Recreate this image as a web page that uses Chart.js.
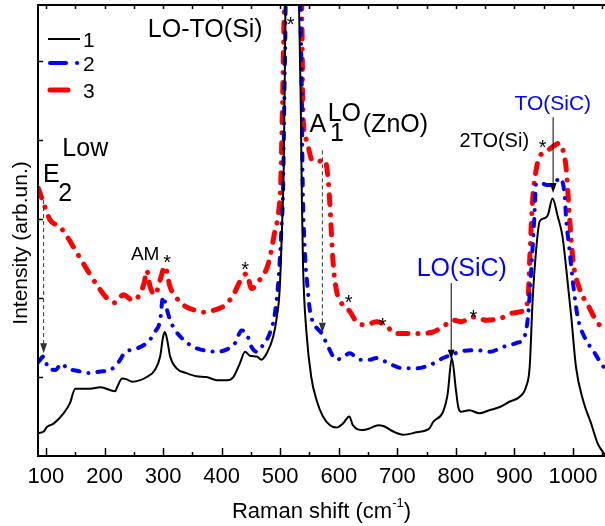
<!DOCTYPE html>
<html>
<head>
<meta charset="utf-8">
<script src="https://cdn.jsdelivr.net/npm/chart.js@4.4.0/dist/chart.umd.min.js"></script>
<style>
  html, body { margin: 0; padding: 0; background: #fff; }
  canvas { display: block; }
</style>
</head>
<body>
<canvas id="ramanChart" width="605" height="526"></canvas>
<script>
// ---- data ----
const xTickLabels = [100, 200, 300, 400, 500, 600, 700, 800, 900, 1000];
const xMinorTicks = [150, 250, 350, 450, 550, 650, 750, 850, 950, 1050];
const yTicks = [1, 2, 3, 4, 5];

// spectrum 1 (black, solid)
const s1X = [87, 96, 102, 113, 130, 141, 150, 175, 193, 218, 222, 230, 238, 247, 261, 272, 286, 295, 300, 303, 307, 312, 323, 340, 357, 374, 392, 409, 420, 431, 440, 448, 460, 468, 477, 488, 494, 499, 504, 506, 508, 509, 514, 520, 526, 532, 535, 537, 539, 545, 553, 562, 573, 585, 596, 607, 618, 624, 641, 653, 667, 676, 693, 710, 733, 755, 761, 778, 786, 793, 800, 804, 809, 823, 840, 857, 875, 892, 909, 920, 926, 931, 937, 943, 951, 957, 965, 974, 982, 988, 997, 1005, 1017, 1031, 1042, 1051, 1055];
const s1Y = [0.29, 0.31, 0.37, 0.41, 0.54, 0.67, 0.85, 0.85, 0.87, 0.82, 0.88, 0.98, 0.97, 0.94, 0.96, 1.0, 1.09, 1.26, 1.51, 1.57, 1.47, 1.26, 1.11, 1.05, 1.01, 1.0, 0.96, 0.96, 1.0, 1.17, 1.32, 1.27, 1.26, 1.22, 1.30, 1.51, 1.75, 2.1, 3.1, 3.66, 4.93, 5.77, 7.5, 9, 7.5, 5.77, 4.5, 3.24, 2.40, 1.55, 1.0, 0.71, 0.50, 0.39, 0.36, 0.41, 0.50, 0.39, 0.33, 0.35, 0.39, 0.38, 0.31, 0.27, 0.30, 0.35, 0.43, 0.56, 0.79, 1.24, 0.84, 0.62, 0.56, 0.58, 0.54, 0.58, 0.62, 0.69, 0.75, 0.88, 1.13, 1.97, 2.61, 2.97, 3.01, 3.05, 3.26, 3.03, 2.78, 2.40, 1.76, 1.13, 0.71, 0.41, 0.16, 0.05, 0.0];

// spectrum 2 (blue, dash-dot)
const s2X = [87, 96, 104, 116, 127, 136, 153, 173, 193, 210, 224, 235, 255, 275, 286, 295, 300, 306, 312, 321, 335, 352, 375, 392, 409, 423, 434, 443, 451, 460, 471, 482, 491, 497, 502, 505, 507, 509, 510, 520, 533, 535, 537, 538, 542, 546, 551, 559, 571, 582, 596, 605, 619, 636, 653, 664, 681, 710, 733, 755, 761, 778, 792, 812, 835, 858, 880, 903, 917, 923, 929, 934, 937, 946, 957, 966, 977, 986, 988, 994, 1000, 1008, 1022, 1034, 1048, 1055];
const s2Y = [1.19, 1.26, 1.11, 1.09, 1.17, 1.11, 1.08, 1.05, 1.07, 1.09, 1.19, 1.31, 1.36, 1.45, 1.57, 1.72, 2.02, 1.87, 1.72, 1.59, 1.47, 1.38, 1.33, 1.32, 1.35, 1.43, 1.59, 1.54, 1.38, 1.32, 1.41, 1.55, 1.81, 2.23, 2.86, 3.41, 4.5, 5.5, 6.5, 9, 6.5, 5.5, 4.5, 3.66, 2.61, 2.19, 1.83, 1.66, 1.55, 1.38, 1.22, 1.24, 1.30, 1.22, 1.22, 1.24, 1.19, 1.11, 1.11, 1.15, 1.17, 1.24, 1.28, 1.33, 1.34, 1.32, 1.38, 1.43, 1.51, 1.76, 2.40, 3.03, 3.45, 3.45, 3.43, 3.43, 3.52, 3.28, 3.03, 2.61, 2.19, 1.76, 1.47, 1.34, 1.17, 1.10];

// spectrum 3 (red, dash-dot)
const s3X = [87, 96, 107, 124, 136, 153, 176, 193, 204, 218, 232, 249, 261, 268, 272, 278, 286, 295, 303, 312, 321, 335, 352, 369, 389, 406, 420, 434, 443, 451, 465, 480, 491, 497, 501, 504, 507, 520, 535, 537, 539, 545, 554, 565, 576, 582, 586, 590, 596, 605, 619, 630, 647, 664, 679, 698, 716, 738, 761, 767, 786, 795, 809, 829, 852, 875, 897, 912, 923, 926, 931, 937, 943, 954, 966, 977, 983, 988, 994, 1000, 1010, 1027, 1039, 1053, 1055];
const s3Y = [3.39, 3.2, 2.99, 2.90, 2.78, 2.57, 2.29, 2.10, 2.0, 1.94, 2.04, 1.97, 2.06, 2.2, 2.35, 2.14, 2.04, 2.23, 2.40, 2.14, 2.02, 1.91, 1.85, 1.82, 1.85, 1.91, 2.04, 2.25, 2.31, 2.12, 2.23, 2.44, 2.85, 3.07, 3.49, 4.5, 5.7, 9, 6.5, 5.56, 4.29, 4.0, 3.75, 3.73, 3.75, 3.49, 3.03, 2.48, 2.10, 1.93, 1.83, 1.70, 1.66, 1.70, 1.66, 1.55, 1.55, 1.55, 1.57, 1.59, 1.68, 1.72, 1.70, 1.76, 1.72, 1.74, 1.81, 1.83, 1.97, 2.48, 3.24, 3.62, 3.79, 3.85, 3.92, 3.96, 3.87, 3.66, 3.03, 2.48, 2.14, 1.89, 1.72, 1.59, 1.57];

// peak assignments (text label anchored at x, y = centre of capitals)
const peakLabels = [
    { text: 'LO-TO(Si)', x: 274, y: 5.42, size: 25, color: '#000' },
    { text: 'E', x: 95, y: 3.58, size: 25, color: '#000' },
    { text: '2', x: 121, y: 3.34, size: 25, color: '#000' },
    { text: 'Low', x: 128, y: 3.91, size: 25, color: '#000' },
    { text: 'AM', x: 245, y: 2.57, size: 19, color: '#000' },
    { text: 'A', x: 550, y: 4.22, size: 25, color: '#000' },
    { text: 'LO', x: 581, y: 4.35, size: 25, color: '#000' },
    { text: '1', x: 585, y: 4.10, size: 25, color: '#000' },
    { text: '(ZnO)', x: 641, y: 4.22, size: 25, color: '#000' },
    { text: 'LO(SiC)', x: 733, y: 2.39, size: 25, color: '#0000ff' },
    { text: 'TO(SiC)', x: 900, y: 4.48, size: 21, color: '#0000ff' },
    { text: '2TO(Si)', x: 806, y: 4.0, size: 20, color: '#000' }
];
const starMarks = [
    { x: 518, y: 5.52 }, { x: 307, y: 2.51 }, { x: 440, y: 2.42 },
    { x: 617, y: 2.0 }, { x: 675, y: 1.72 }, { x: 830, y: 1.81 }, { x: 948, y: 3.97 }
];
const arrowMarks = [
    { x: 96, from: 3.24, to: 1.30, dashed: true },
    { x: 572, from: 3.87, to: 1.56, dashed: true },
    { x: 792, from: 2.19, to: 1.22, dashed: false },
    { x: 966, from: 4.29, to: 3.33, dashed: false }
];

const FONT = '"Liberation Sans", Arial, Helvetica, sans-serif';
const toPoints = (xs, ys) => xs.map((x, i) => ({ x: x, y: ys[i] }));

// frame, inward ticks, legend, annotations and axis titles
const decorations = {
    id: 'decorations',
    afterDatasetsDraw(chart) {
        const ctx = chart.ctx;
        const { left, right, top, bottom } = chart.chartArea;
        const xs = chart.scales.x, ys = chart.scales.y;
        ctx.save();

        // frame
        ctx.strokeStyle = '#000';
        ctx.lineWidth = 2;
        ctx.setLineDash([]);
        ctx.beginPath();
        ctx.moveTo(right, top); ctx.lineTo(left, top); ctx.lineTo(left, bottom); ctx.lineTo(right + 2, bottom);
        ctx.stroke();

        // ticks
        ctx.lineWidth = 1.5;
        ctx.beginPath();
        xTickLabels.forEach(v => {
            const p = Math.round(xs.getPixelForValue(v)) + 0.5;
            ctx.moveTo(p, bottom); ctx.lineTo(p, bottom - 8);
            ctx.moveTo(p, top); ctx.lineTo(p, top + 4);
        });
        xMinorTicks.forEach(v => {
            const p = Math.round(xs.getPixelForValue(v)) + 0.5;
            ctx.moveTo(p, bottom); ctx.lineTo(p, bottom - 4);
            ctx.moveTo(p, top); ctx.lineTo(p, top + 4);
        });
        yTicks.forEach(v => {
            const p = Math.round(ys.getPixelForValue(v)) + 0.5;
            ctx.moveTo(left, p); ctx.lineTo(left + 5, p);
        });
        ctx.stroke();

        // legend
        ctx.lineCap = 'butt';
        ctx.strokeStyle = '#000'; ctx.lineWidth = 2;
        ctx.beginPath(); ctx.moveTo(48, 39); ctx.lineTo(80, 39); ctx.stroke();
        ctx.lineCap = 'round';
        ctx.strokeStyle = '#0000ff'; ctx.lineWidth = 4;
        ctx.beginPath(); ctx.moveTo(50, 63); ctx.lineTo(66, 63); ctx.stroke();
        ctx.beginPath(); ctx.moveTo(77, 63); ctx.lineTo(77.1, 63); ctx.stroke();
        ctx.strokeStyle = '#ff0000'; ctx.lineWidth = 5;
        ctx.beginPath(); ctx.moveTo(50, 90); ctx.lineTo(68, 90); ctx.stroke();
        ctx.fillStyle = '#000';
        ctx.font = '21px ' + FONT;
        ctx.textAlign = 'left';
        ctx.textBaseline = 'alphabetic';
        ctx.fillText('1', 83, 39 + 7.5);
        ctx.fillText('2', 83, 63 + 7.5);
        ctx.fillText('3', 83, 90 + 7.5);

        // arrows
        arrowMarks.forEach(a => {
            const px = xs.getPixelForValue(a.x);
            const y0 = ys.getPixelForValue(a.from), y1 = ys.getPixelForValue(a.to);
            ctx.strokeStyle = a.dashed ? '#333' : '#000';
            ctx.fillStyle = ctx.strokeStyle;
            ctx.lineWidth = 1;
            ctx.lineCap = 'butt';
            ctx.setLineDash(a.dashed ? [4, 3] : []);
            ctx.beginPath(); ctx.moveTo(px, y0); ctx.lineTo(px, y1 - 8); ctx.stroke();
            ctx.setLineDash([]);
            ctx.beginPath();
            ctx.moveTo(px - 3.5, y1 - 10); ctx.lineTo(px + 3.5, y1 - 10); ctx.lineTo(px, y1);
            ctx.closePath(); ctx.fill();
        });

        // labels
        ctx.textAlign = 'left';
        ctx.textBaseline = 'alphabetic';
        peakLabels.forEach(l => {
            ctx.font = l.size + 'px ' + FONT;
            ctx.fillStyle = l.color;
            ctx.fillText(l.text, xs.getPixelForValue(l.x), ys.getPixelForValue(l.y) + 0.36 * l.size);
        });
        ctx.font = '20px ' + FONT;
        ctx.fillStyle = '#000';
        ctx.textAlign = 'center';
        starMarks.forEach(s => {
            ctx.fillText('*', xs.getPixelForValue(s.x), ys.getPixelForValue(s.y) + 0.57 * 20);
        });

        // x axis title with superscript
        ctx.textAlign = 'left';
        const main = 'Raman shift (cm';
        ctx.font = '22px ' + FONT;
        const w1 = ctx.measureText(main).width;
        ctx.font = '13px ' + FONT;
        const w2 = ctx.measureText('-1').width;
        ctx.font = '22px ' + FONT;
        const w3 = ctx.measureText(')').width;
        let tx = (left + right) / 2 - (w1 + w2 + w3) / 2;
        const base = 518;
        ctx.fillText(main, tx, base); tx += w1;
        ctx.font = '13px ' + FONT;
        ctx.fillText('-1', tx, base - 11); tx += w2;
        ctx.font = '22px ' + FONT;
        ctx.fillText(')', tx, base);

        // y axis title
        ctx.save();
        ctx.translate(27, 243);
        ctx.rotate(-Math.PI / 2);
        ctx.textAlign = 'center';
        ctx.font = '21px ' + FONT;
        ctx.fillText('Intensity (arb.un.)', 0, 0);
        ctx.restore();

        ctx.restore();
    }
};

const ctx = document.getElementById('ramanChart').getContext('2d');
new Chart(ctx, {
    type: 'line',
    data: {
        datasets: [
            {
                label: '1',
                data: toPoints(s1X, s1Y),
                borderColor: '#000000',
                borderWidth: 2,
                pointRadius: 0,
                cubicInterpolationMode: 'monotone',
                fill: false
            },
            {
                label: '2',
                data: toPoints(s2X, s2Y),
                borderColor: '#0000ff',
                borderWidth: 4,
                borderDash: [7, 9, 0.1, 9],
                borderCapStyle: 'round',
                pointRadius: 0,
                cubicInterpolationMode: 'monotone',
                fill: false
            },
            {
                label: '3',
                data: toPoints(s3X, s3Y),
                borderColor: '#ff0000',
                borderWidth: 5,
                borderDash: [10, 10, 0.1, 10],
                borderCapStyle: 'round',
                pointRadius: 0,
                cubicInterpolationMode: 'monotone',
                fill: false
            }
        ]
    },
    options: {
        responsive: false,
        animation: false,
        devicePixelRatio: 1,
        layout: { padding: { top: 5, right: 0, left: 0, bottom: 0 } },
        plugins: {
            legend: { display: false },
            tooltip: { enabled: false }
        },
        scales: {
            x: {
                type: 'linear',
                min: 86.4,
                max: 1054.6,
                grid: { display: false, drawTicks: false },
                border: { display: false },
                afterBuildTicks: scale => { scale.ticks = xTickLabels.map(v => ({ value: v })); },
                afterFit: scale => { scale.height = 70; scale.paddingLeft = 0; scale.paddingRight = 0; },
                ticks: {
                    autoSkip: false,
                    maxRotation: 0,
                    padding: 8,
                    color: '#000',
                    font: { family: FONT, size: 22 },
                    callback: value => String(value)
                }
            },
            y: {
                type: 'linear',
                min: 0,
                max: 5.71,
                grid: { display: false, drawTicks: false },
                border: { display: false },
                ticks: { display: false },
                afterFit: scale => { scale.width = 38; }
            }
        }
    },
    plugins: [decorations]
});
</script>
</body>
</html>
